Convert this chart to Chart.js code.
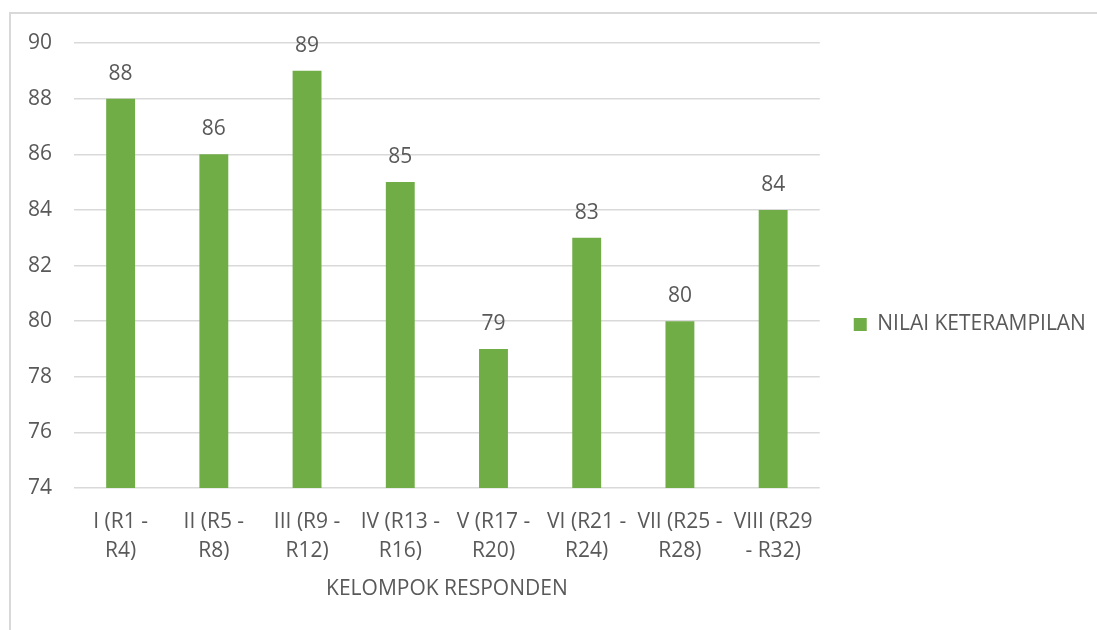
<!DOCTYPE html>
<html>
<head>
<meta charset="utf-8">
<script src="https://cdn.jsdelivr.net/npm/chart.js@4"></script>
<style>
  html, body { margin: 0; padding: 0; background: #fff; }
  body { width: 1097px; height: 630px; position: relative; overflow: hidden; }
  #frame {
    position: absolute; left: 9px; top: 12px; width: 1100px; height: 640px;
    border-top: 2px solid #d9d9d9; border-left: 2px solid #d9d9d9;
  }
  #wrap { position: absolute; left: 0; top: 0; width: 1097px; height: 630px; }
</style>
</head>
<body>
<div id="frame"></div>
<div id="wrap"><canvas id="chart"></canvas></div>
<script>
// data
const categories = [
  ['I (R1 -', 'R4)'],
  ['II (R5 -', 'R8)'],
  ['III (R9 -', 'R12)'],
  ['IV (R13 -', 'R16)'],
  ['V (R17 -', 'R20)'],
  ['VI (R21 -', 'R24)'],
  ['VII (R25 -', 'R28)'],
  ['VIII (R29', '- R32)']
];
const nilaiKeterampilan = [88, 86, 89, 85, 79, 83, 80, 84];
const seriesName = 'NILAI KETERAMPILAN';
const axisTitle = 'KELOMPOK RESPONDEN';
const yMin = 74, yMax = 90, yStep = 2;

const textColor = '#595959';
const fontFamily = '"Open Sans", "Noto Sans", sans-serif';
const fontSize = 21;

// draws the value above each bar
const valueLabels = {
  id: 'valueLabels',
  afterDatasetsDraw(chart) {
    const ctx = chart.ctx;
    const meta = chart.getDatasetMeta(0);
    ctx.save();
    ctx.font = fontSize + 'px ' + fontFamily;
    ctx.fillStyle = textColor;
    ctx.textAlign = 'center';
    ctx.textBaseline = 'middle';
    meta.data.forEach((bar, i) => {
      ctx.fillText(String(nilaiKeterampilan[i]), bar.x, bar.y - 25);
    });
    ctx.restore();
  }
};

Chart.defaults.font.family = fontFamily;
Chart.defaults.font.size = fontSize;
Chart.defaults.color = textColor;

new Chart(document.getElementById('chart'), {
  type: 'bar',
  data: {
    labels: categories,
    datasets: [{
      label: seriesName,
      data: nilaiKeterampilan,
      backgroundColor: '#70ad47',
      borderWidth: 0,
      barPercentage: 0.62,
      categoryPercentage: 0.5
    }]
  },
  options: {
    responsive: true,
    maintainAspectRatio: false,
    animation: false,
    layout: { padding: { top: 43, right: 6, bottom: 24, left: 6 } },
    plugins: {
      tooltip: { enabled: false },
      legend: {
        position: 'right',
        labels: {
          boxWidth: 13,
          boxHeight: 13,
          padding: 34,
          color: textColor,
          font: { size: fontSize, family: fontFamily }
        }
      }
    },
    scales: {
      x: {
        grid: { display: false, drawTicks: false },
        border: { display: false },
        ticks: { maxRotation: 0, autoSkip: false, padding: 20, color: textColor,
                 font: { size: fontSize, lineHeight: 1.35 } },
        title: { display: true, text: axisTitle, color: textColor,
                 font: { size: fontSize }, padding: { top: -8 } }
      },
      y: {
        min: yMin,
        max: yMax,
        grid: { color: '#d9d9d9', lineWidth: 1.5, drawTicks: false },
        border: { display: false },
        ticks: { stepSize: yStep, padding: 22, color: textColor, font: { size: fontSize } }
      }
    }
  },
  plugins: [valueLabels]
});
</script>
</body>
</html>
